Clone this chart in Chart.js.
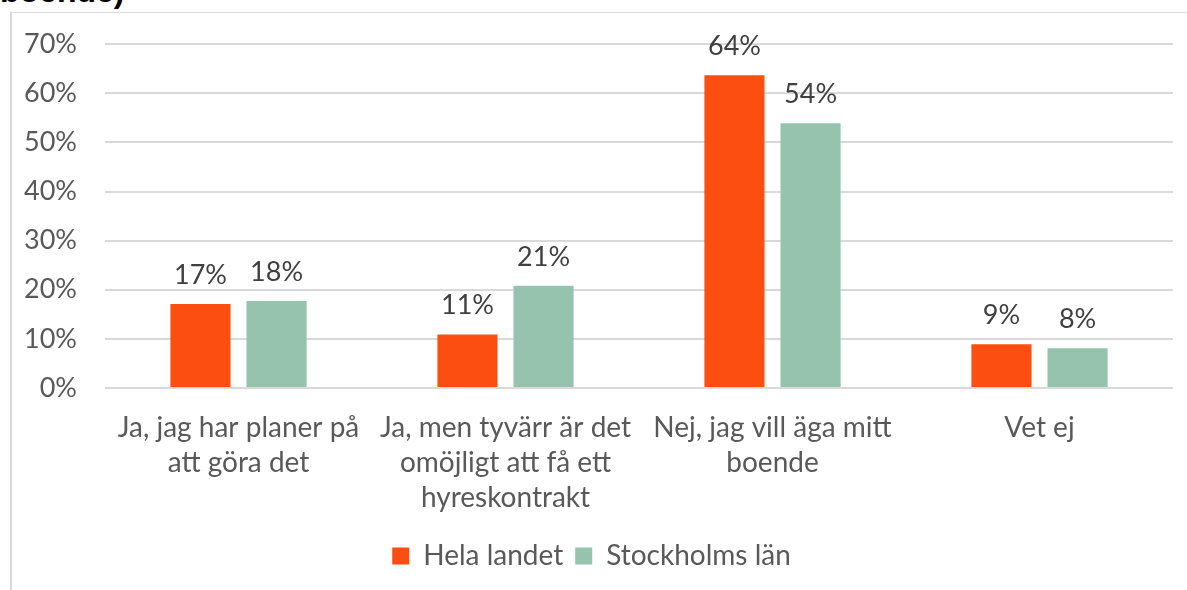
<!DOCTYPE html>
<html>
<head>
<meta charset="utf-8">
<script src="https://cdn.jsdelivr.net/npm/chart.js@4.4.1/dist/chart.umd.min.js"></script>
<style>
  html, body { margin: 0; padding: 0; background: #fff; overflow: hidden; }
  #wrap { position: relative; width: 1187px; height: 590px; overflow: hidden; }
  #frame { position: absolute; left: 10px; top: 12px; width: 1300px; height: 700px;
           border-top: 1px solid #d9d9d9; border-left: 2px solid #d9d9d9; }
  #title { position: absolute; left: 0; top: -25px; font: bold 32px/32px "Liberation Sans", Arial, sans-serif;
           color: #000; white-space: nowrap; }
  #c { position: absolute; left: 0; top: 0; }
</style>
</head>
<body>
<div id="wrap">
  <div id="frame"></div>
  <div id="title">boende)</div>
  <canvas id="c" width="1187" height="590"></canvas>
</div>
<script>
// kategorier och värden (%)
const categories = [
  ['Ja, jag har planer på', 'att göra det'],
  ['Ja, men tyvärr är det', 'omöjligt att få ett', 'hyreskontrakt'],
  ['Nej, jag vill äga mitt', 'boende'],
  'Vet ej'
];
const helaLandet = [17.1, 10.9, 63.7, 8.9];
const stockholm = [17.7, 20.8, 53.9, 8.1];
const seriesNames = ['Hela landet', 'Stockholms län'];

const textFont = 'Lato, "Open Sans", sans-serif';

// etiketter ovanför staplarna
const barLabels = {
  id: 'barLabels',
  afterDatasetsDraw(chart) {
    const ctx = chart.ctx;
    ctx.save();
    ctx.font = '27px ' + textFont;
    ctx.fillStyle = '#404040';
    ctx.textAlign = 'center';
    ctx.textBaseline = 'alphabetic';
    chart.data.datasets.forEach(function (ds, i) {
      chart.getDatasetMeta(i).data.forEach(function (bar, j) {
        ctx.fillText(Math.round(ds.data[j]) + '%', bar.x, bar.y - 20);
      });
    });
    ctx.restore();
  }
};

new Chart(document.getElementById('c'), {
  type: 'bar',
  data: {
    labels: categories,
    datasets: [
      { label: seriesNames[0], data: helaLandet, backgroundColor: '#FD4E12' },
      { label: seriesNames[1], data: stockholm, backgroundColor: '#95C3AE' }
    ]
  },
  options: {
    responsive: false,
    animation: false,
    layout: { padding: { top: 43, right: 14, left: 10, bottom: 10 } },
    datasets: { bar: { categoryPercentage: 0.57, barPercentage: 0.79 } },
    scales: {
      y: {
        min: 0, max: 70,
        border: { display: false },
        grid: { color: '#d9d9d9', lineWidth: 2, drawTicks: false },
        ticks: {
          stepSize: 10,
          padding: 28,
          color: '#595959',
          font: { size: 27, family: textFont },
          callback: function (v) { return v + '%'; }
        },
        afterFit: function (scale) { scale.width = 95; }
      },
      x: {
        border: { display: false },
        grid: { display: false, drawTicks: false },
        ticks: {
          padding: 22,
          maxRotation: 0,
          color: '#595959',
          font: { size: 28, family: textFont, lineHeight: 1.25 }
        },
        afterFit: function (scale) { scale.height -= 7; }
      }
    },
    plugins: {
      legend: {
        position: 'bottom',
        labels: {
          boxWidth: 17, boxHeight: 17,
          padding: 12,
          color: '#595959',
          font: { size: 28, family: textFont }
        }
      },
      tooltip: { enabled: false }
    }
  },
  plugins: [barLabels]
});
</script>
</body>
</html>
